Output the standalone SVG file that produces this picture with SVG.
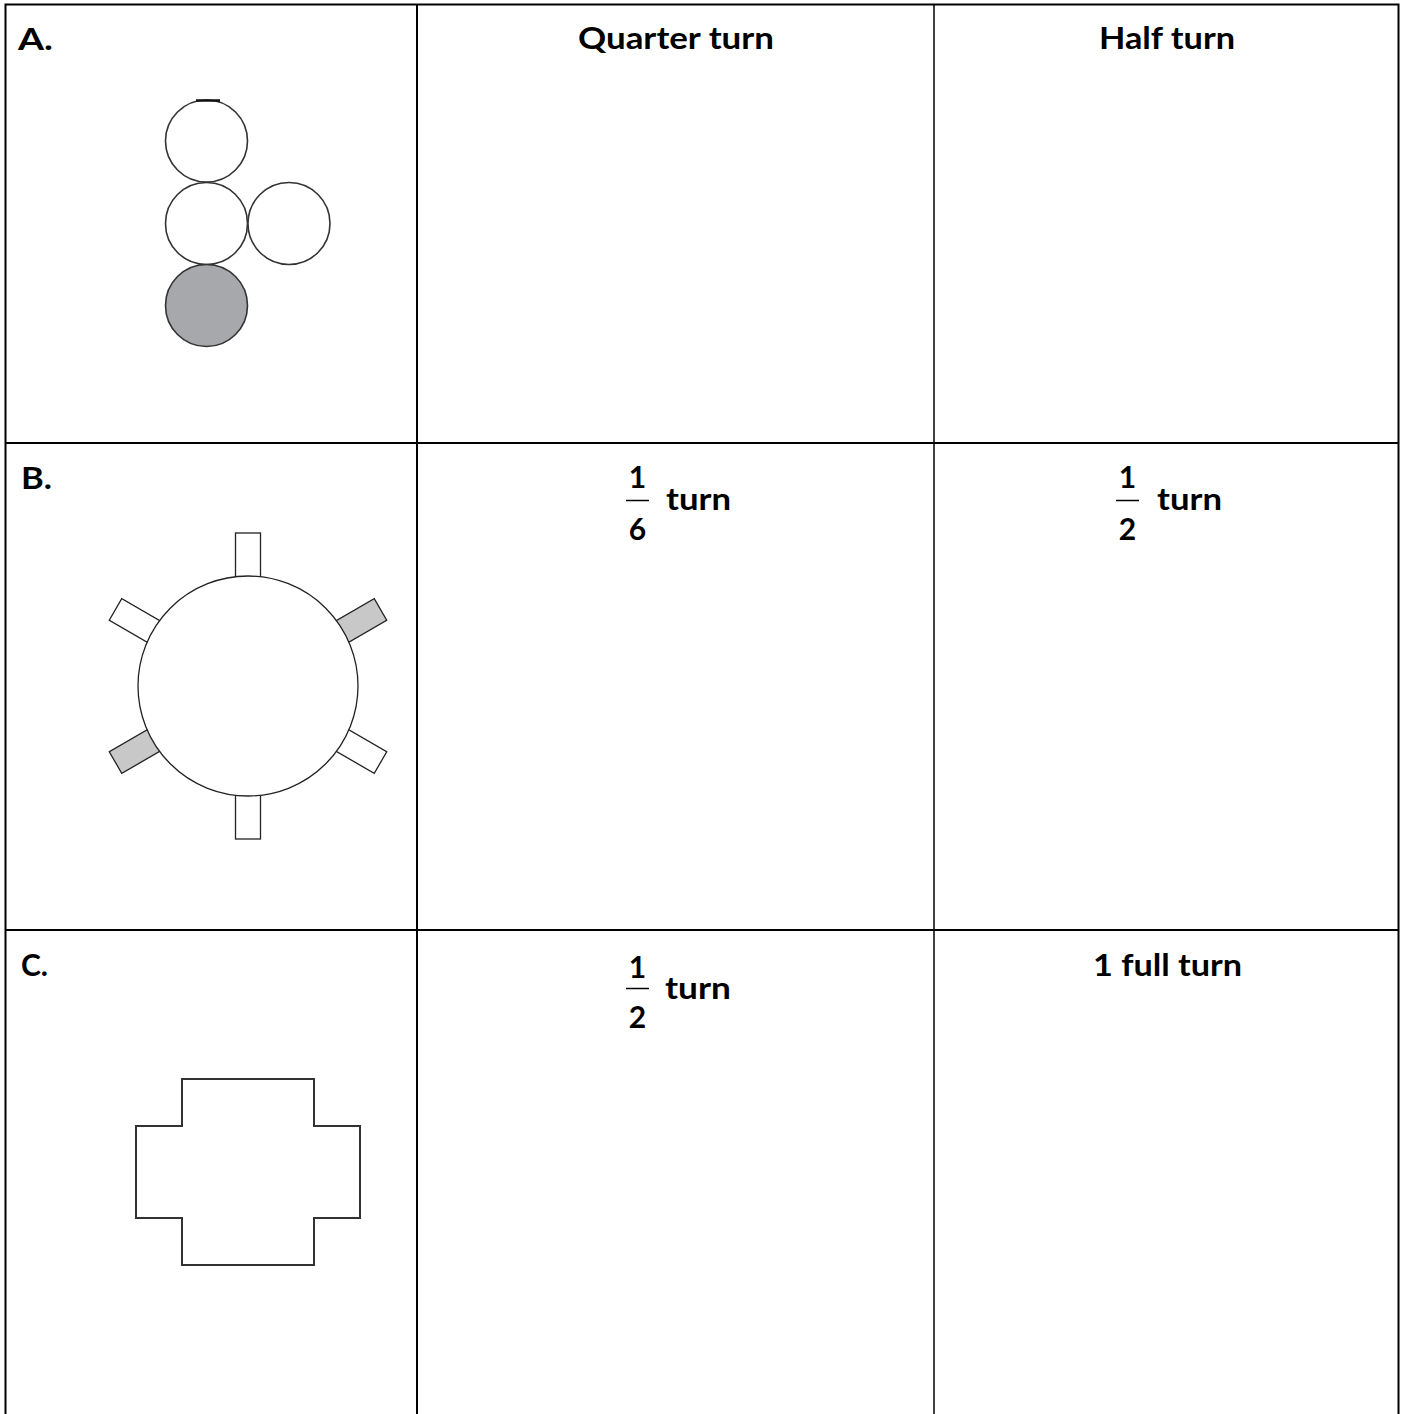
<svg xmlns="http://www.w3.org/2000/svg" width="1406" height="1414" viewBox="0 0 1406 1414">
<style>
.t{font-family:Lato,"Open Sans","Liberation Sans",sans-serif;font-weight:bold;font-size:30px;fill:#000}
.d{font-family:Lato,"Open Sans","Liberation Sans",sans-serif;font-weight:bold;font-size:30px;fill:#000;text-anchor:middle}
.grid{stroke:#000;stroke-width:2;fill:none}
.shape{stroke:#333;stroke-width:1.6;fill:#fff}
.shape.fill{fill:#a7a8ab}
.shape.thick{stroke-width:2}
.tab{stroke:#222;stroke-width:1.3}
.bar{stroke:#000;stroke-width:1.5}
</style>
<defs>
<rect id="tab" x="-12.5" y="-153" width="25" height="60"/>
</defs>
<rect width="1406" height="1414" fill="#fff"/>
<g id="grid" class="grid">
<path d="M5.5,1414 V4.5 H1398.5 V1414"/>
<path d="M417,4.5 V1414" />
<path d="M934,4.5 V1414" stroke-width="1.5"/>
<path d="M5.5,443 H1398.5"/>
<path d="M5.5,930 H1398.5"/>
</g>
<g id="headers">
<text class="t" x="18" y="50" textLength="35" lengthAdjust="spacingAndGlyphs">A.</text>
<text class="t" x="578" y="49" textLength="196" lengthAdjust="spacingAndGlyphs">Quarter turn</text>
<text class="t" x="1099" y="49" textLength="136" lengthAdjust="spacingAndGlyphs">Half turn</text>
<text class="t" x="21" y="489" textLength="31" lengthAdjust="spacingAndGlyphs">B.</text>
<text class="t" x="21" y="976" textLength="27" lengthAdjust="spacingAndGlyphs">C.</text>
<text class="t" x="1093" y="976" textLength="149" lengthAdjust="spacingAndGlyphs">1 full turn</text>
</g>
<g id="frac-b1">
<text class="d" x="637.5" y="488">1</text>
<line class="bar" x1="626" y1="500.5" x2="649" y2="500.5"/>
<text class="d" x="637.5" y="540">6</text>
<text class="t" x="666" y="510" textLength="65" lengthAdjust="spacingAndGlyphs">turn</text>
</g>
<g id="frac-b2">
<text class="d" x="1127.5" y="488">1</text>
<line class="bar" x1="1116" y1="500.5" x2="1139" y2="500.5"/>
<text class="d" x="1127.5" y="540">2</text>
<text class="t" x="1157" y="510" textLength="65" lengthAdjust="spacingAndGlyphs">turn</text>
</g>
<g id="frac-c1">
<text class="d" x="637.5" y="978">1</text>
<line class="bar" x1="626" y1="988.5" x2="649" y2="988.5"/>
<text class="d" x="637.5" y="1028">2</text>
<text class="t" x="665" y="999" textLength="66" lengthAdjust="spacingAndGlyphs">turn</text>
</g>
<g id="shape-a">
<circle class="shape" cx="206.5" cy="141" r="41"/>
<circle class="shape" cx="206.5" cy="223.5" r="41"/>
<circle class="shape" cx="289" cy="223.5" r="41"/>
<circle class="shape fill" cx="206.5" cy="305.5" r="41"/>
<line x1="196" y1="100.5" x2="220" y2="100.5" stroke="#111" stroke-width="2.5"/>
</g>
<g id="shape-b" transform="translate(248,686)">
<use href="#tab" class="tab" fill="#fff"/>
<use href="#tab" class="tab" fill="#c8c8c8" transform="rotate(60)"/>
<use href="#tab" class="tab" fill="#fff" transform="rotate(120)"/>
<use href="#tab" class="tab" fill="#fff" transform="rotate(180)"/>
<use href="#tab" class="tab" fill="#c8c8c8" transform="rotate(240)"/>
<use href="#tab" class="tab" fill="#fff" transform="rotate(300)"/>
<circle cx="0" cy="0" r="110" fill="#fff" stroke="#222" stroke-width="1.3"/>
</g>
<g id="shape-c">
<path class="shape thick" d="M182,1079 H314 V1126 H360 V1218 H314 V1265 H182 V1218 H136 V1126 H182 Z"/>
</g>
</svg>
